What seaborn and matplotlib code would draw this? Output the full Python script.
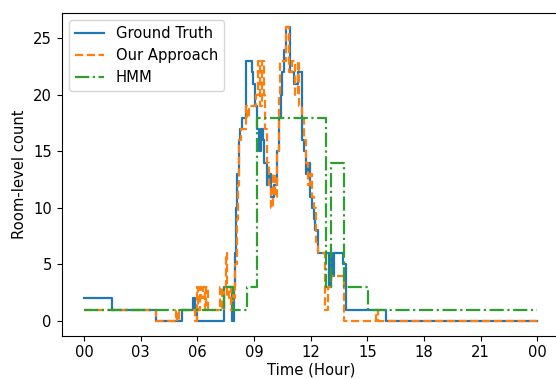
import matplotlib
matplotlib.use("Agg")
import matplotlib.pyplot as plt
import seaborn as sns

# step data, time in hours, value holds until next time
gt_t = [0, 1.48, 3.8, 5.2, 5.78, 5.88, 6.0, 7.4, 7.85, 7.95, 8.0, 8.05, 8.1, 8.18, 8.25, 8.35, 8.55,
        8.9, 8.95, 9.05, 9.15, 9.25, 9.35, 9.45, 9.55, 9.7, 9.8, 9.9, 10.05, 10.2, 10.3, 10.4, 10.5,
        10.6, 10.7, 10.9, 11.1, 11.3, 11.55, 11.65, 11.75, 11.85, 11.95, 12.05, 12.15, 12.25, 12.4,
        12.95, 13.05, 13.15, 13.25, 13.7, 13.85, 16.0, 24.0]
gt_v = [2, 1, 0, 1, 2, 1, 0, 3, 0, 3, 6, 10, 13, 16, 17, 18, 23,
        22, 21, 19, 17, 15, 17, 16, 14, 12, 13, 11, 12, 15, 18, 20, 22,
        24, 26, 22, 21, 22, 16, 15, 13, 14, 11, 10, 9, 8, 6,
        3, 6, 4, 6, 5, 1, 0, 0]

ours_t = [0, 3.8, 4.85, 4.92, 5.0, 5.85, 5.95, 6.05, 6.12, 6.2, 6.3, 6.4, 6.47, 6.55, 7.2, 7.3,
          7.38, 7.5, 7.58, 7.68, 7.78, 7.88, 7.95, 8.0, 8.08, 8.15, 8.22, 8.3, 8.4, 8.55, 8.65, 8.75,
          9.1, 9.2, 9.3, 9.4, 9.5, 9.6, 9.7, 9.8, 9.9, 10.0, 10.1, 10.2, 10.3, 10.35, 10.7, 10.85,
          11.0, 11.15, 11.3, 11.4, 11.55, 11.65, 11.75, 11.85, 11.95, 12.05, 12.15, 12.3, 12.4,
          12.75, 12.9, 13.05, 13.75, 15.45, 15.55, 24.0]
ours_v = [1, 0, 1, 0, 1, 0, 3, 1, 3, 2, 3, 1, 3, 1, 3, 1,
          3, 6, 2, 3, 1, 3, 2, 5, 9, 12, 16, 17, 17, 19, 18, 19,
          20, 23, 19, 23, 20, 17, 14, 12, 10, 13, 11, 15, 20, 23, 26, 22,
          23, 20, 23, 19, 18, 16, 14, 12, 13, 11, 10, 7, 6,
          1, 3, 4, 0, 1, 0, 0]

hmm_t = [0, 7.4, 7.9, 8.65, 9.15, 12.8, 13.05, 13.75, 15.05, 24.0]
hmm_v = [1, 3, 1, 3, 18, 3, 14, 3, 1, 1]

hour_ticks = [0, 3, 6, 9, 12, 15, 18, 21, 24]
hour_labels = ['00', '03', '06', '09', '12', '15', '18', '21', '00']

plt.rcParams['font.size'] = 10.6
lw = 1.6

fig = plt.figure(figsize=(5.56, 3.79), dpi=100)
ax = fig.add_axes([61.5 / 556, 43.5 / 379, 498.5 / 556, 323 / 379])

sns.lineplot(x=gt_t, y=gt_v, drawstyle='steps-post', color='C0', linestyle='-', linewidth=lw,
             label='Ground Truth', estimator=None, ax=ax)
sns.lineplot(x=ours_t, y=ours_v, drawstyle='steps-post', color='C1', linestyle='--', linewidth=lw,
             label='Our Approach', estimator=None, ax=ax)
sns.lineplot(x=hmm_t, y=hmm_v, drawstyle='steps-post', color='C2', linestyle='-.', linewidth=lw,
             label='HMM', estimator=None, ax=ax)

ax.set_xticks(hour_ticks)
ax.set_xticklabels(hour_labels)
ax.set_xlim(-1.2, 25.2)
ax.set_ylim(-1.3, 27.3)
ax.set_xlabel('Time (Hour)', labelpad=1.5)
ax.set_ylabel('Room-level count')
ax.legend(loc='upper left')

fig.savefig('out.png', dpi=100)
